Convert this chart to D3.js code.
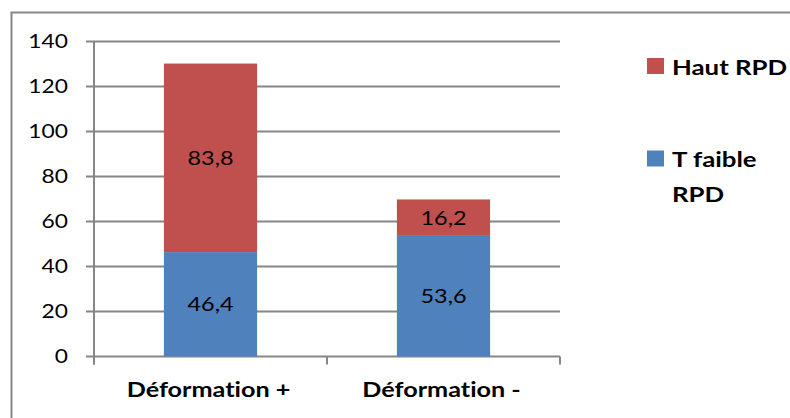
<!DOCTYPE html>
<html>
<head>
<meta charset="utf-8">
<script src="https://cdn.jsdelivr.net/npm/d3@7"></script>
<style>
  html, body { margin: 0; padding: 0; background: #fff; }
  svg { display: block; }
  text { font-family: Lato, "Open Sans", sans-serif; fill: #000; font-variant-ligatures: none; font-feature-settings: "liga" 0, "clig" 0; }
</style>
</head>
<body>
<svg id="chart" width="790" height="418"></svg>
<script>
// Stacked bar data
const categories = ["Déformation +", "Déformation -"];
const faibleRPD = [46.4, 53.6];
const hautRPD = [83.8, 16.2];
const yTicks = [0, 20, 40, 60, 80, 100, 120, 140];
const seriesNames = ["T faible RPD", "Haut RPD"];
const seriesColors = ["#4F81BD", "#C0504D"];

const svg = d3.select("#chart");
const W = 790, H = 418;
const STRETCH = 1.2; // horizontal widening of the typeface
const place = (px, py) => `translate(${px},${py}) scale(${STRETCH},1)`;

// Outer chart frame
svg.append("rect")
  .attr("x", 11.5).attr("y", 12.5)
  .attr("width", W + 10).attr("height", H + 10)
  .attr("fill", "none").attr("stroke", "#868686").attr("stroke-width", 2);

const plot = { left: 94, right: 560, top: 41.5, bottom: 356.5 };

const x = d3.scaleBand().domain(categories)
  .range([plot.left, plot.right]).paddingInner(0.6).paddingOuter(0.3);
const y = d3.scaleLinear().domain([0, 140]).range([plot.bottom, plot.top]);

// Gridlines
svg.append("g").selectAll("line").data(yTicks).join("line")
  .attr("x1", plot.left - 8).attr("x2", plot.right)
  .attr("y1", d => y(d)).attr("y2", d => y(d))
  .attr("stroke", "#868686").attr("stroke-width", 2);

// Y tick labels
svg.append("g").selectAll("text").data(yTicks).join("text")
  .attr("transform", d => place(68, y(d)))
  .attr("dy", "0.36em")
  .attr("text-anchor", "end")
  .attr("font-size", 19)
  .text(d => d);

// Stack the two series
const rows = categories.map((c, i) => ({ cat: c, faible: faibleRPD[i], haut: hautRPD[i] }));
const stack = d3.stack().keys(["faible", "haut"]);
const layers = stack(rows);

const bars = svg.append("g");
layers.forEach((layer, li) => {
  bars.append("g").selectAll("rect").data(layer).join("rect")
    .attr("x", d => x(d.data.cat))
    .attr("width", x.bandwidth())
    .attr("y", d => y(d[1]))
    .attr("height", d => y(d[0]) - y(d[1]))
    .attr("fill", seriesColors[li]);
  bars.append("g").selectAll("text").data(layer).join("text")
    .attr("transform", d => place(x(d.data.cat) + x.bandwidth() / 2, (y(d[0]) + y(d[1])) / 2))
    .attr("dy", "0.36em")
    .attr("text-anchor", "middle")
    .attr("font-size", 19.5)
    .text(d => d3.format(".1f")(d[1] - d[0]).replace(".", ","));
});

// Axes lines
svg.append("line")
  .attr("x1", plot.left).attr("x2", plot.left)
  .attr("y1", plot.top).attr("y2", plot.bottom + 8)
  .attr("stroke", "#868686").attr("stroke-width", 2);
const catEdges = [plot.left, (plot.left + plot.right) / 2, plot.right];
svg.append("g").selectAll("line").data(catEdges).join("line")
  .attr("x1", d => d).attr("x2", d => d)
  .attr("y1", plot.bottom).attr("y2", plot.bottom + 8)
  .attr("stroke", "#868686").attr("stroke-width", 2);

// Category labels
svg.append("g").selectAll("text").data(categories).join("text")
  .attr("transform", d => place(x(d) + x.bandwidth() / 2 - 2, 397))
  .attr("text-anchor", "middle")
  .attr("font-size", 21)
  .attr("font-weight", "bold")
  .text(d => d);

// Legend
const legendItems = [
  { name: seriesNames[1], color: seriesColors[1], y: 58, lines: ["Haut RPD"] },
  { name: seriesNames[0], color: seriesColors[0], y: 150.5, lines: ["T faible", "RPD"] }
];
const lg = svg.append("g");
legendItems.forEach(it => {
  lg.append("rect").attr("x", 647).attr("y", it.y).attr("width", 17).attr("height", 16)
    .attr("fill", it.color);
  const t = lg.append("text").attr("transform", place(672, it.y + 16.5))
    .attr("font-size", 21.5).attr("font-weight", "bold");
  it.lines.forEach((ln, i) => {
    t.append("tspan").attr("x", 0).attr("dy", i === 0 ? 0 : 35).text(ln);
  });
});
</script>
</body>
</html>
